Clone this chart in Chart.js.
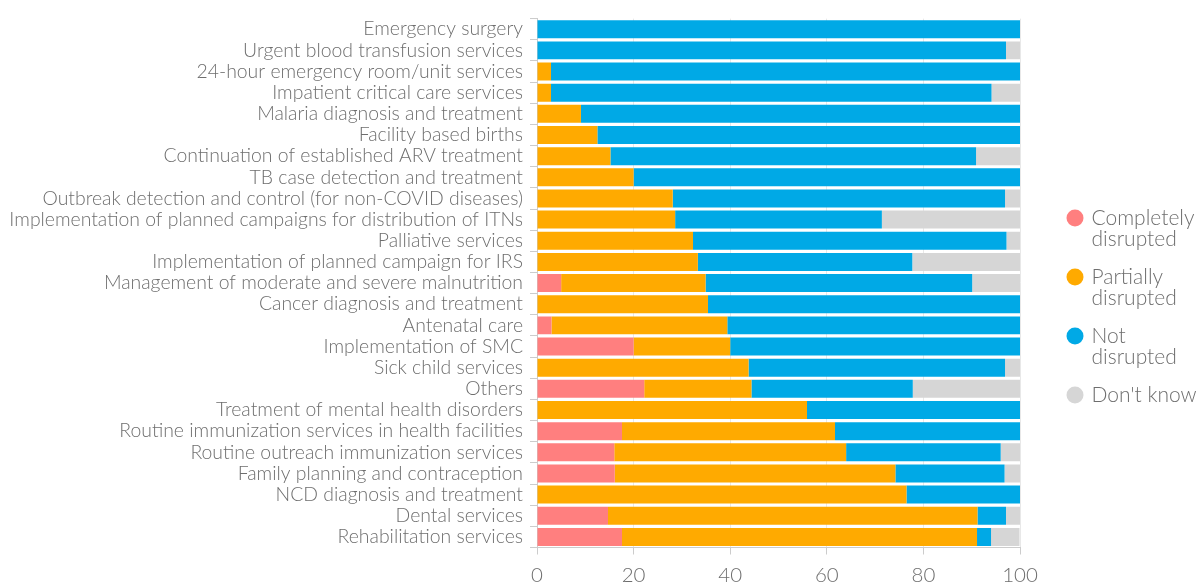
<!DOCTYPE html>
<html>
<head>
<meta charset="utf-8">
<script src="https://cdn.jsdelivr.net/npm/chart.js@4"></script>
<style>
html,body{margin:0;padding:0;background:#fff;}
#wrap{width:1198px;height:583px;}
</style>
</head>
<body>
<div id="wrap"><canvas id="c" width="1198" height="583"></canvas></div>
<script>
const categories = [
  "Emergency surgery",
  "Urgent blood transfusion services",
  "24-hour emergency room/unit services",
  "Impatient critical care services",
  "Malaria diagnosis and treatment",
  "Facility based births",
  "Continuation of established ARV treatment",
  "TB case detection and treatment",
  "Outbreak detection and control (for non-COVID diseases)",
  "Implementation of planned campaigns for distribution of ITNs",
  "Palliative services",
  "Implementation of planned campaign for IRS",
  "Management of moderate and severe malnutrition",
  "Cancer diagnosis and treatment",
  "Antenatal care",
  "Implementation of SMC",
  "Sick child services",
  "Others",
  "Treatment of mental health disorders",
  "Routine immunization services in health facilities",
  "Routine outreach immunization services",
  "Family planning and contraception",
  "NCD diagnosis and treatment",
  "Dental services",
  "Rehabilitation services"
];
const completelyDisrupted = [0,0,0,0,0,0,0,0,0,0,0,0,5.0,0,3.0,20.0,0,22.2,0,17.6,16.0,16.1,0,14.7,17.6];
const partiallyDisrupted  = [0,0,2.9,2.9,9.1,12.5,15.2,20.0,28.1,28.6,32.3,33.3,29.9,35.4,36.4,20.0,43.8,22.2,55.9,44.1,48.0,58.1,76.5,76.5,73.5];
const notDisrupted        = [100,97.1,97.1,91.2,90.9,87.5,75.7,80.0,68.8,42.8,64.9,44.4,55.2,64.6,60.6,60.0,53.1,33.4,44.1,38.3,32.0,22.6,23.5,5.9,2.9];
const dontKnow            = [0,2.9,0,5.9,0,0,9.1,0,3.1,28.6,2.8,22.3,9.9,0,0,0,3.1,22.2,0,0,4.0,3.2,0,2.9,5.9];
const seriesNames = ["Completely disrupted","Partially disrupted","Not disrupted","Don't know"];
const legendLines = [["Completely","disrupted"],["Partially","disrupted"],["Not","disrupted"],["Don't know"]];
const xTicks = [0,20,40,60,80,100];

const colors = ["#FF7F7F","#FFAA00","#00A9E6","#D6D6D6"];
const seriesData = [completelyDisrupted, partiallyDisrupted, notDisrupted, dontKnow];
const FONT = "Lato, 'Open Sans', sans-serif";
const TEXT = '#6e6e6e';

const PLOT_LEFT = 537, PLOT_RIGHT = 1020, PLOT_TOP = 16.5, PLOT_BOTTOM = 547.5;
const LEGEND_BOX_LEFT = 1069, LEGEND_FIRST_TOP = 199;

const legendShift = {
  id: 'legendShift',
  afterLayout(chart) {
    const lg = chart.legend;
    if (!lg) return;
    const pad = lg.options.labels.padding;
    const dx = LEGEND_BOX_LEFT - (lg.left + pad);
    const colH = lg.columnSizes && lg.columnSizes[0] ? lg.columnSizes[0].height : 0;
    const curTop = (lg.top + lg.bottom) / 2 - colH / 2;
    const dy = LEGEND_FIRST_TOP - curTop;
    lg.left += dx; lg.right += dx;
    lg.top += dy; lg.bottom += dy;
  }
};

const chart = new Chart(document.getElementById('c'), {
  type: 'bar',
  data: {
    labels: categories,
    datasets: seriesData.map((d,i)=>({
      label: seriesNames[i],
      data: d,
      backgroundColor: colors[i],
      borderWidth: 0,
      barPercentage: 0.85,
      categoryPercentage: 1.0
    }))
  },
  plugins: [legendShift],
  options: {
    indexAxis: 'y',
    responsive: false,
    animation: false,
    layout: { padding: { top: PLOT_TOP, right: 0, left: 0, bottom: 0 } },
    scales: {
      x: {
        stacked: true,
        min: 0, max: 100,
        afterBuildTicks: (s)=>{ s.ticks = xTicks.map(v=>({value:v})); },
        afterFit: (s)=>{ s.height = 583 - PLOT_BOTTOM; },
        grid: { color: '#e8e8e8', tickLength: 7, tickColor: '#cccccc' },
        border: { color: '#cccccc' },
        ticks: { color: TEXT, font: { family: FONT, size: 20.5, weight: 300 }, padding: 9 }
      },
      y: {
        stacked: true,
        afterFit: (s)=>{ s.width = PLOT_LEFT; },
        grid: { drawOnChartArea: false, tickLength: 7, tickColor: '#cccccc' },
        border: { color: '#cccccc' },
        ticks: { color: TEXT, font: { family: FONT, size: 19.4, weight: 300 }, padding: 7, autoSkip: false }
      }
    },
    plugins: {
      tooltip: { enabled: false },
      legend: {
        position: 'right',
        labels: {
          usePointStyle: true,
          pointStyle: 'circle',
          boxWidth: 12,
          boxHeight: 12,
          color: TEXT,
          font: { family: FONT, size: 21, weight: 300, lineHeight: '21px' },
          padding: 17,
          generateLabels: (c)=>{
            const items = Chart.defaults.plugins.legend.labels.generateLabels(c);
            items.forEach((it,i)=>{ it.text = legendLines[i]; it.lineWidth = 0; });
            return items;
          }
        }
      }
    }
  }
});
const diff = chart.chartArea.right - PLOT_RIGHT;
if (Math.abs(diff) > 0.5) {
  chart.options.layout.padding.right = Math.max(0, diff);
  chart.update();
}
</script>
</body>
</html>
